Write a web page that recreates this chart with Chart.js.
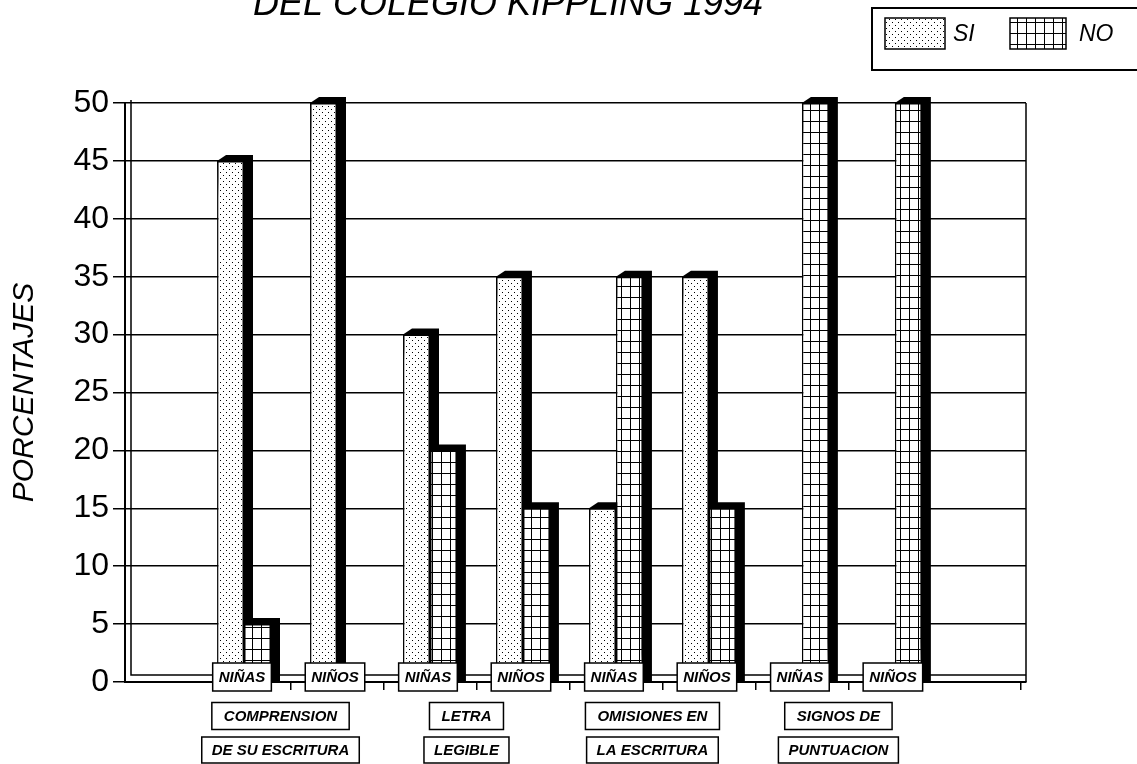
<!DOCTYPE html>
<html>
<head>
<meta charset="utf-8">
<script src="https://cdn.jsdelivr.net/npm/chart.js@4.4.1/dist/chart.umd.min.js"></script>
<style>
    html, body { margin: 0; padding: 0; background: #fff; }
</style>
</head>
<body>
<canvas id="grafico" width="1137" height="764"></canvas>
<script>
// Datos del gráfico
const titulo = 'DEL COLEGIO KIPPLING 1994';
const grupos = ['NIÑAS', 'NIÑOS', 'NIÑAS', 'NIÑOS', 'NIÑAS', 'NIÑOS', 'NIÑAS', 'NIÑOS'];
const categorias = [
    ['COMPRENSION', 'DE SU ESCRITURA'],
    ['LETRA', 'LEGIBLE'],
    ['OMISIONES EN', 'LA ESCRITURA'],
    ['SIGNOS DE', 'PUNTUACION']
];
const valoresSi = [45, 50, 30, 35, 15, 35, 0, 0];
const valoresNo = [5, 0, 20, 15, 35, 15, 50, 50];
const ticksY = [0, 5, 10, 15, 20, 25, 30, 35, 40, 45, 50];
const tituloY = 'PORCENTAJES';

const FUENTE = "'Liberation Sans', Arial, sans-serif";
const PROF_X = 9;   // profundidad 3D
const PROF_Y = 6;

/**
 * Tramas en blanco y negro
 */
function tramaPuntos() {
    const c = document.createElement('canvas');
    c.width = 6; c.height = 6;
    const g = c.getContext('2d');
    g.fillStyle = '#fff';
    g.fillRect(0, 0, 6, 6);
    g.fillStyle = '#000';
    g.fillRect(1, 1, 1, 1);
    g.fillRect(4, 4, 1, 1);
    return g.createPattern(c, 'repeat');
}

function tramaCuadricula() {
    const c = document.createElement('canvas');
    c.width = 9; c.height = 11;
    const g = c.getContext('2d');
    g.fillStyle = '#fff';
    g.fillRect(0, 0, 9, 11);
    g.fillStyle = '#000';
    g.fillRect(0, 0, 1, 11);
    g.fillRect(0, 0, 9, 1);
    return g.createPattern(c, 'repeat');
}

const ctx0 = document.getElementById('grafico').getContext('2d');
const patronSi = tramaPuntos();
const patronNo = tramaCuadricula();

// Sombra negra de las barras (efecto 3D)
const sombraPlugin = {
    id: 'sombra',
    beforeDatasetsDraw(chart) {
        const ctx = chart.ctx;
        ctx.save();
        ctx.fillStyle = '#000';
        chart.data.datasets.forEach((ds, i) => {
            const meta = chart.getDatasetMeta(i);
            meta.data.forEach((bar, j) => {
                if (!ds.data[j].y) return;
                const l = bar.x - bar.width / 2;
                const r = bar.x + bar.width / 2;
                ctx.beginPath();
                ctx.moveTo(l, bar.y);
                ctx.lineTo(l + PROF_X, bar.y - PROF_Y);
                ctx.lineTo(r + PROF_X, bar.y - PROF_Y);
                ctx.lineTo(r + PROF_X, bar.base);
                ctx.lineTo(r, bar.base);
                ctx.closePath();
                ctx.fill();
            });
        });
        ctx.restore();
    }
};

// Marco del gráfico (pared y piso)
const marcoPlugin = {
    id: 'marco',
    beforeDatasetsDraw(chart) {
        const { ctx, chartArea } = chart;
        ctx.save();
        ctx.strokeStyle = '#000';
        ctx.lineWidth = 1.5;
        ctx.beginPath();
        ctx.moveTo(chartArea.left + 6, chartArea.top - 3);
        ctx.lineTo(chartArea.left + 6, chartArea.bottom - 7);
        ctx.lineTo(chartArea.right, chartArea.bottom - 7);
        ctx.moveTo(chartArea.right, chartArea.top);
        ctx.lineTo(chartArea.right, chartArea.bottom);
        ctx.stroke();
        ctx.restore();
    }
};

function cajaTexto(ctx, texto, cx, cy, alto, padX) {
    const w = ctx.measureText(texto).width + padX * 2;
    ctx.fillStyle = '#fff';
    ctx.fillRect(cx - w / 2, cy - alto / 2, w, alto);
    ctx.strokeRect(cx - w / 2, cy - alto / 2, w, alto);
    ctx.fillStyle = '#000';
    ctx.fillText(texto, cx, cy + 1);
}

// Etiquetas, título y leyenda
const textosPlugin = {
    id: 'textos',
    afterDraw(chart) {
        const ctx = chart.ctx;
        const x = chart.scales.x;
        ctx.save();
        ctx.strokeStyle = '#000';
        ctx.lineWidth = 1.5;
        ctx.textAlign = 'center';
        ctx.textBaseline = 'middle';

        // NIÑAS / NIÑOS
        ctx.font = `italic bold 15px ${FUENTE}`;
        grupos.forEach((g, i) => {
            cajaTexto(ctx, g, x.getPixelForValue(i + 1) - 2, 677, 28, 6);
        });

        // categorías
        categorias.forEach((lineas, i) => {
            const cx = (x.getPixelForValue(2 * i + 1) + x.getPixelForValue(2 * i + 2)) / 2 - 10;
            cajaTexto(ctx, lineas[0], cx, 716, 27, 12);
            cajaTexto(ctx, lineas[1], cx, 750, 26, 10);
        });

        // título (cortado arriba)
        ctx.font = `italic 36px ${FUENTE}`;
        ctx.textBaseline = 'alphabetic';
        ctx.fillText(titulo, 508, 15);

        // leyenda
        ctx.lineWidth = 2;
        ctx.strokeRect(872, 8, 280, 62);
        ctx.lineWidth = 1.5;
        ctx.fillStyle = patronSi;
        ctx.fillRect(885, 18, 60, 31);
        ctx.strokeRect(885, 18, 60, 31);
        ctx.fillStyle = patronNo;
        ctx.fillRect(1010, 18, 56, 31);
        ctx.strokeRect(1010, 18, 56, 31);
        ctx.fillStyle = '#000';
        ctx.font = `italic 23px ${FUENTE}`;
        ctx.textAlign = 'left';
        ctx.textBaseline = 'middle';
        ctx.fillText('SI', 953, 35);
        ctx.fillText('NO', 1079, 35);
        ctx.restore();
    }
};

new Chart(ctx0, {
    type: 'bar',
    data: {
        datasets: [
            {
                label: 'SI',
                data: valoresSi.map((v, i) => ({ x: i + 1, y: v })),
                backgroundColor: patronSi,
                borderColor: '#000',
                borderWidth: 1.5
            },
            {
                label: 'NO',
                data: valoresNo.map((v, i) => ({ x: i + 1, y: v })),
                backgroundColor: patronNo,
                borderColor: '#000',
                borderWidth: 1.5
            }
        ]
    },
    options: {
        responsive: false,
        animation: false,
        devicePixelRatio: 1,
        categoryPercentage: 0.58,
        barPercentage: 1,
        layout: {
            padding: { top: 103, right: 111, left: 0, bottom: 0 }
        },
        plugins: {
            legend: { display: false },
            tooltip: { enabled: false }
        },
        scales: {
            x: {
                type: 'linear',
                offset: false,
                min: -0.28,
                max: 9.41,
                afterBuildTicks(scale) {
                    scale.ticks = [1.5, 2.5, 3.5, 4.5, 5.5, 6.5, 7.5, 9.35].map(v => ({ value: v }));
                },
                afterFit(scale) {
                    scale.height = 82;
                },
                ticks: { display: false },
                grid: {
                    offset: false,
                    drawOnChartArea: false,
                    color: '#000',
                    lineWidth: 1.5,
                    tickLength: 8
                },
                border: { display: true, color: '#000', width: 2 }
            },
            y: {
                min: 0,
                max: 50,
                afterBuildTicks(scale) {
                    scale.ticks = ticksY.map(v => ({ value: v }));
                },
                afterFit(scale) {
                    scale.width = 125;
                },
                ticks: {
                    color: '#000',
                    padding: 4,
                    font: { family: FUENTE, size: 32 }
                },
                grid: {
                    color: '#000',
                    lineWidth: 1.5,
                    tickLength: 12
                },
                border: { display: true, color: '#000', width: 2 },
                title: {
                    display: true,
                    text: tituloY,
                    color: '#000',
                    padding: { top: 7, bottom: 0 },
                    font: { family: FUENTE, size: 30, style: 'italic' }
                }
            }
        }
    },
    plugins: [marcoPlugin, sombraPlugin, textosPlugin]
});
</script>
</body>
</html>
